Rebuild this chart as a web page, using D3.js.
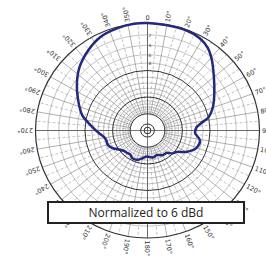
<!DOCTYPE html>
<html>
<head>
<meta charset="utf-8">
<script src="https://cdn.jsdelivr.net/npm/d3@7"></script>
<style>
  body { margin: 0; background: #fff; }
  svg { display: block; }
</style>
</head>
<body>
<div id="chart"></div>
<script>
// pattern data, angle in degrees (clockwise from top) and gain in dB
var angles = [0, 9.5, 20, 28.5, 35, 41, 50, 60, 69.5, 77, 82, 87, 93, 101, 111, 120, 127, 134, 140, 150, 160, 168, 175, 182, 189, 199, 208, 215, 221, 228, 234, 243, 249, 257, 262, 265.5, 273, 280, 284, 295, 305, 314, 325, 334, 344, 353];
var gainDb = [0, -0.1, -0.1, -0.4, -1.1, -2.3, -4.4, -6.4, -8.1, -9.9, -12.5, -14.3, -14.7, -12.7, -13.2, -15.8, -19, -20.2, -22.4, -22.8, -24.3, -23.4, -23.9, -24.4, -23.2, -21.3, -21.2, -22.4, -22, -21.6, -20.4, -17.7, -16.7, -16.6, -15.8, -14.7, -12.4, -10, -8.7, -6.5, -4.5, -2.9, -1.5, -0.6, -0.2, 0];

// grid rings (dB)
var majorRings = [0, -10, -20, -32];
var minorRings = [-2, -4, -6, -8, -12, -14, -16, -18, -22, -24, -26, -28, -30];
var centerRings = [-48, -60];
var axisTicks = ["2", "4", "6", "8"];
var angleTicks = d3.range(0, 360, 10);
var note = "Normalized to 6 dBd";

var svgWidth = 266, svgHeight = 270;
var cx = 147.5, cy = 130.5, rx = 112, ry = 107.5;

var svg = d3.select("#chart").append("svg")
    .attr("width", svgWidth)
    .attr("height", svgHeight);

// log style radius: power ratio ^ 0.2531 (ARRL-like)
var rScale = d3.scalePow().exponent(0.2531).domain([0, 1]).range([0, 1]);
function rOf(db) { return rScale(Math.pow(10, db / 10)); }
function px(a, r) { return cx + rx * r * Math.sin(a * Math.PI / 180); }
function py(a, r) { return cy - ry * r * Math.cos(a * Math.PI / 180); }

var grid = svg.append("g");

grid.selectAll(".minor").data(minorRings).enter().append("ellipse")
    .attr("cx", cx).attr("cy", cy)
    .attr("rx", d => rx * rOf(d)).attr("ry", d => ry * rOf(d))
    .attr("fill", "none").attr("stroke", "#9a9a9a").attr("stroke-width", 0.6);

var rIn = rOf(-32);
// radial lines every 5 deg, dashed in between the 10 deg ones
grid.selectAll(".spoke").data(d3.range(0, 360, 5)).enter().append("line")
    .attr("x1", d => px(d, rIn)).attr("y1", d => py(d, rIn))
    .attr("x2", d => px(d, 1)).attr("y2", d => py(d, 1))
    .attr("stroke", d => d % 10 == 0 ? "#7a7a7a" : "#9a9a9a")
    .attr("stroke-width", 0.6)
    .attr("stroke-dasharray", d => d % 10 == 0 ? null : "3,2");

// cross hair
grid.append("line").attr("x1", cx).attr("x2", cx).attr("y1", cy - ry).attr("y2", cy + ry)
    .attr("stroke", "#555").attr("stroke-width", 0.8);
grid.append("line").attr("x1", cx - rx).attr("x2", cx + rx).attr("y1", cy).attr("y2", cy)
    .attr("stroke", "#555").attr("stroke-width", 0.8);

grid.selectAll(".major").data(majorRings.concat(centerRings)).enter().append("ellipse")
    .attr("cx", cx).attr("cy", cy)
    .attr("rx", d => rx * rOf(d)).attr("ry", d => ry * rOf(d))
    .attr("fill", "none").attr("stroke", "#333")
    .attr("stroke-width", d => d == 0 ? 1.2 : 1);

// small numbers on the 0 deg axis
grid.selectAll(".axisnum").data(axisTicks).enter().append("text")
    .attr("x", cx + 1)
    .attr("y", d => py(0, rOf(-(+d))) + 2)
    .style("font-family", "DejaVu Sans")
    .style("font-size", "4.5px")
    .style("fill", "#444")
    .text(d => d);

// angle labels
svg.selectAll(".alabel").data(angleTicks).enter().append("text")
    .attr("transform", function(d) {
        var x = cx + (rx + 2.5) * Math.sin(d * Math.PI / 180);
        var y = cy - (ry + 2.5) * Math.cos(d * Math.PI / 180);
        if (d == 0) return `translate(${x}, ${y})`;
        return `translate(${x}, ${y}) rotate(${d - 90})`;
    })
    .attr("text-anchor", d => d == 0 ? "middle" : "start")
    .attr("dy", d => d == 0 ? "-1" : "0.35em")
    .style("font-family", "DejaVu Sans")
    .style("font-size", "6.5px")
    .style("fill", "#333")
    .text(d => d == 0 ? "0" : d + "°");

// pattern
var pts = angles.map((a, i) => [px(a, rOf(gainDb[i])), py(a, rOf(gainDb[i]))]);
var line = d3.line().curve(d3.curveCatmullRomClosed);
svg.append("path")
    .attr("d", line(pts))
    .attr("fill", "none")
    .attr("stroke", "#232a7e")
    .attr("stroke-width", 2.5)
    .attr("stroke-linejoin", "round");

// note box
svg.append("rect")
    .attr("x", 48).attr("y", 202).attr("width", 196).attr("height", 21)
    .attr("fill", "#fff").attr("stroke", "#222").attr("stroke-width", 2);
svg.append("text")
    .attr("x", 146).attr("y", 216.5)
    .attr("text-anchor", "middle")
    .style("font-family", "Open Sans")
    .style("font-size", "12px")
    .style("fill", "#222")
    .text(note);
</script>
</body>
</html>
